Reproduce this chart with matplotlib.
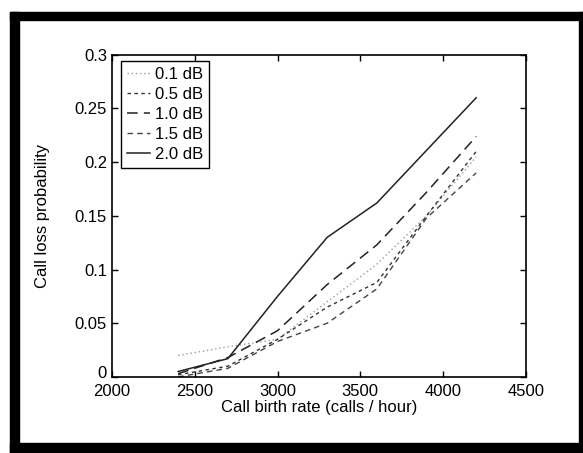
import matplotlib.pyplot as plt
from matplotlib.patches import Rectangle
from matplotlib.transforms import ScaledTranslation

plt.rcParams['font.family'] = ['Liberation Sans', 'DejaVu Sans']

# Datos
tasa_llamadas = [2400, 2700, 3000, 3300, 3600, 3900, 4200]
etiquetas = ['0.1 dB', '0.5 dB', '1.0 dB', '1.5 dB', '2.0 dB']
p_01 = [0.020, 0.028, 0.035, 0.070, 0.105, 0.150, 0.205]
p_05 = [0.002, 0.010, 0.035, 0.065, 0.088, 0.150, 0.210]
p_10 = [0.003, 0.018, 0.043, 0.086, 0.123, 0.172, 0.224]
p_15 = [0.000, 0.008, 0.033, 0.050, 0.082, 0.148, 0.190]
p_20 = [0.005, 0.017, 0.075, 0.130, 0.162, 0.211, 0.260]

fig = plt.figure(figsize=(5.83, 4.53), dpi=100)
ax = fig.add_axes([0.192, 0.168, 0.710, 0.711])

ax.plot(tasa_llamadas, p_01, color='#9a9a9a', lw=1.0, linestyle=(0, (1, 2)), label=etiquetas[0])
ax.plot(tasa_llamadas, p_05, color='#333333', lw=1.0, linestyle=(0, (2.5, 2.5)), label=etiquetas[1])
ax.plot(tasa_llamadas, p_10, color='#222222', lw=1.1, linestyle=(0, (7, 4)), label=etiquetas[2])
ax.plot(tasa_llamadas, p_15, color='#444444', lw=1.0, linestyle=(0, (4, 3)), label=etiquetas[3])
ax.plot(tasa_llamadas, p_20, color='#222222', lw=1.1, linestyle='-', label=etiquetas[4])

ax.set_xlim(2000, 4500)
ax.set_ylim(0, 0.3)
ax.set_xticks([2000, 2500, 3000, 3500, 4000, 4500])
ax.set_yticks([0, 0.05, 0.1, 0.15, 0.2, 0.25, 0.3])
ax.set_yticklabels(['0', '0.05', '0.1', '0.15', '0.2', '0.25', '0.3'])
ax.tick_params(direction='in', top=True, right=True, labelsize=12, length=4, width=1)
ax.tick_params(axis='x', pad=5)
for s in ax.spines.values():
    s.set_linewidth(1.2)

# el "0" del eje y queda un poco por encima, como en el original
cero = ax.get_yticklabels()[0]
cero.set_transform(cero.get_transform() + ScaledTranslation(0, 5 / 100, fig.dpi_scale_trans))

ax.set_xlabel('Call birth rate (calls / hour)', fontsize=12, labelpad=1)
ax.set_ylabel('Call loss probability', fontsize=12, labelpad=18)

leg = ax.legend(loc='upper left', bbox_to_anchor=(0.022, 0.98), borderaxespad=0,
                fontsize=12, handlelength=1.4, handletextpad=0.3, labelspacing=0.3,
                borderpad=0.35, fancybox=False, framealpha=1, edgecolor='black')
leg.get_frame().set_linewidth(1.0)

# Marco negro alrededor de la figura
W, H = 583, 453
for (x0, y0, w, h) in [(10, 0, 9, 441), (10, 433, 573, 8), (579, 0, 4, 441), (10, 0, 573, 10)]:
    fig.patches.append(Rectangle((x0 / W, y0 / H), w / W, h / H, transform=fig.transFigure,
                                 color='black', zorder=10))

plt.savefig('out.png', dpi=100)
